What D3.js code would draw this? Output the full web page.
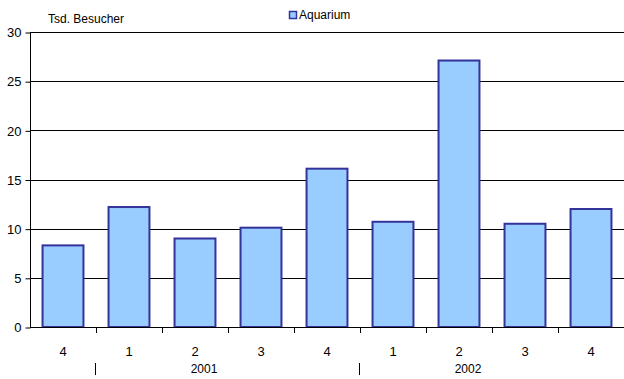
<!DOCTYPE html>
<meta charset="utf-8">
<style>
  body { margin: 0; background: #fff; }
  svg { font-family: Arial, "Liberation Sans", sans-serif; }
  text { fill: #000; }
</style>
<body>
  <svg id="chart" width="624" height="379"></svg>
</body>
<script src="https://cdn.jsdelivr.net/npm/d3@7/dist/d3.min.js"></script>
<script>
// quarters and visitors (Tsd.)
var quarters = ["4", "1", "2", "3", "4", "1", "2", "3", "4"];
var visitors = [8.3, 12.2, 9.0, 10.1, 16.1, 10.7, 27.1, 10.5, 12.0];
var years = [{ label: "2001", from: 1, to: 4 }, { label: "2002", from: 5, to: 8 }];
var yTicks = [0, 5, 10, 15, 20, 25, 30];
var seriesName = "Aquarium";
var yTitle = "Tsd. Besucher";

(function () {
  var svg = d3.select("#chart"),
    mLeft = 30, mRight = 624, mTop = 32, mBottom = 327;

  var x = d3.scaleBand().domain(d3.range(quarters.length)).range([mLeft, mRight]).paddingInner(0.38).paddingOuter(0.19);
  var xEdge = d3.scaleLinear().domain([0, quarters.length]).range([mLeft, mRight]);
  var y = d3.scaleLinear().domain([0, 30]).range([mBottom, mTop]);

  // gridlines
  svg.append("g").selectAll("line").data(yTicks.slice(1)).enter().append("line")
    .attr("x1", mLeft).attr("x2", mRight)
    .attr("y1", function (d) { return Math.round(y(d)) + 0.5; })
    .attr("y2", function (d) { return Math.round(y(d)) + 0.5; })
    .attr("stroke", "#000").attr("stroke-width", 1);

  // bars
  svg.append("g").selectAll("rect").data(visitors).enter().append("rect")
    .attr("x", function (d, i) { return x(i); })
    .attr("y", function (d) { return y(d); })
    .attr("width", x.bandwidth())
    .attr("height", function (d) { return y(0) - y(d); })
    .attr("fill", "#99ccff").attr("stroke", "#333399").attr("stroke-width", 2);

  // y axis
  var yAxis = svg.append("g").attr("transform", "translate(" + (mLeft + 0.5) + ",0.5)")
    .call(d3.axisLeft(y).tickValues(yTicks).tickSize(5).tickPadding(4));
  yAxis.select(".domain").remove();
  yAxis.append("line").attr("x1", 0).attr("x2", 0).attr("y1", y(30)).attr("y2", y(0)).attr("stroke", "#000");
  yAxis.selectAll("text").attr("font-size", 13).attr("fill", "#000").attr("font-family", "Arial, 'Liberation Sans', sans-serif");

  // x axis
  var xg = svg.append("g");
  xg.append("line").attr("x1", mLeft).attr("x2", mRight)
    .attr("y1", Math.round(y(0)) + 0.5).attr("y2", Math.round(y(0)) + 0.5).attr("stroke", "#000");
  xg.selectAll(".tk").data(d3.range(1, quarters.length)).enter().append("line")
    .attr("x1", function (d) { return Math.round(xEdge(d)) + 0.5; })
    .attr("x2", function (d) { return Math.round(xEdge(d)) + 0.5; })
    .attr("y1", y(0)).attr("y2", y(0) + 6).attr("stroke", "#000");
  xg.selectAll(".ql").data(quarters).enter().append("text")
    .attr("x", function (d, i) { return x(i) + x.bandwidth() / 2; })
    .attr("y", 356).attr("text-anchor", "middle").attr("font-size", 13)
    .text(function (d) { return d; });
  xg.selectAll(".yl").data(years).enter().append("text")
    .attr("x", function (d) { return (xEdge(d.from) + xEdge(d.to + 1)) / 2 - 24; })
    .attr("y", 373).attr("text-anchor", "middle").attr("font-size", 12)
    .text(function (d) { return d.label; });
  xg.selectAll(".sep").data(years).enter().append("line")
    .attr("x1", function (d) { return Math.round(xEdge(d.from)) - 0.5; })
    .attr("x2", function (d) { return Math.round(xEdge(d.from)) - 0.5; })
    .attr("y1", 363).attr("y2", 375).attr("stroke", "#000");

  // axis title
  svg.append("text").attr("x", 48).attr("y", 23).attr("font-size", 12).text(yTitle);

  // legend
  svg.append("rect").attr("x", 289.5).attr("y", 11.5).attr("width", 7).attr("height", 7)
    .attr("fill", "#99ccff").attr("stroke", "#333399").attr("stroke-width", 1.5);
  svg.append("text").attr("x", 299).attr("y", 19).attr("font-size", 12).text(seriesName);
})();
</script>
